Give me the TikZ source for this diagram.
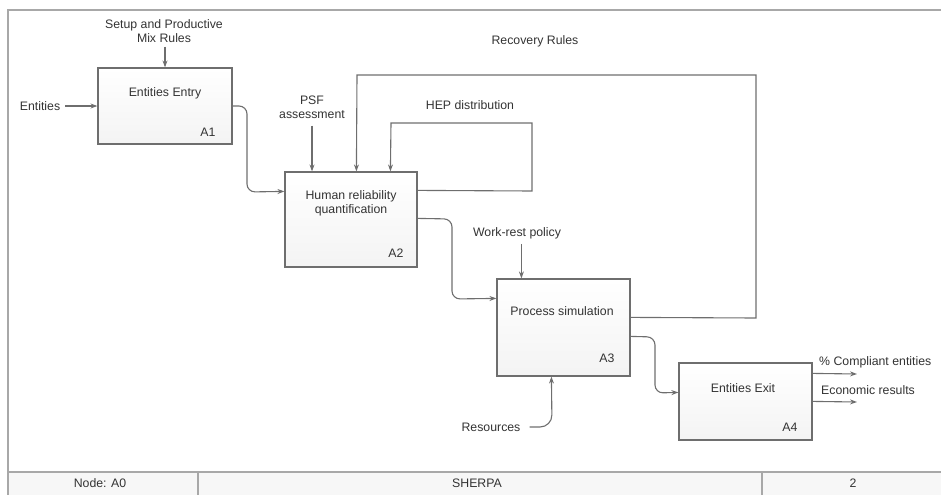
\documentclass[tikz,border=0pt]{standalone}
\usepackage{fontspec}
\setmainfont{Liberation Sans}
\usetikzlibrary{calc,arrows.meta}
\definecolor{linec}{HTML}{6E6E6E}
\definecolor{framec}{HTML}{A8A8A8}
\definecolor{txtc}{HTML}{333333}
\tikzset{
  idefbox/.style={draw=linec, line width=1.2pt, top color=white, bottom color=gray!9, minimum width=#1, inner sep=0pt},
  lbl/.style={text=txtc, font=\fontsize{12.3}{14}\selectfont, inner sep=1pt, align=center},
  conn/.style={draw=linec, line width=1.1pt, -{Stealth[length=7pt,width=5pt]}, rounded corners=8pt},
}
\begin{document}
\begin{tikzpicture}[x=1pt,y=-1pt]
\useasboundingbox (0,0) rectangle (941,495);
% frame
\fill[gray!6] (8,472) rectangle (941,495);
\draw[framec, line width=1.6pt] (941,10) -- (8,10) -- (8,495);
\draw[framec, line width=1.6pt] (8,472) -- (941,472);
\draw[framec, line width=1.4pt] (198,472) -- (198,495);
\draw[framec, line width=1.4pt] (762,472) -- (762,495);
\node[lbl] (fnode) at (100,483) {Node: A0};
\node[lbl] (fsherpa) at (477,483) {SHERPA};
\node[lbl] (fnum) at (853,483) {2};

% boxes
\node[idefbox=134pt, minimum height=76pt] (a1) at (165,106) {};
\node[idefbox=132pt, minimum height=95pt] (a2) at (351,219.5) {};
\node[idefbox=133pt, minimum height=97pt] (a3) at (563.5,327.5) {};
\node[idefbox=133pt, minimum height=77pt] (a4) at (745.5,401.5) {};

% box texts
\node[lbl] (t1) at (165,93) {Entities Entry};
\node[lbl] (n1) at (208,132) {A1};
\node[lbl] (t2) at (351,203) {Human reliability\\quantification};
\node[lbl] (n2) at (396,253) {A2};
\node[lbl] (t3) at (562,311) {Process simulation};
\node[lbl] (n3) at (607,358) {A3};
\node[lbl] (t4) at (743,388) {Entities Exit};
\node[lbl] (n4) at (790,427) {A4};

% external labels
\node[lbl] (ent) at (40,106) {Entities};
\node[lbl] (setup) at (164,31) {Setup and Productive\\Mix Rules};
\node[lbl] (psf) at (312,107) {PSF\\assessment};
\node[lbl] (rec) at (535,41) {Recovery Rules};
\node[lbl] (hep) at (470,105) {HEP distribution};
\node[lbl] (wrp) at (517,233) {Work-rest policy};
\node[lbl] (res) at (491,427) {Resources};
\node[lbl, anchor=west] (comp) at (818,362) {\% Compliant entities};
\node[lbl, anchor=west] (eco) at (820,390) {Economic results};

% coordinates
\coordinate (a2in) at ($(a2.north west)+(0,20)$);
\coordinate (a2rec) at ($(a2.north west)+(72,0)$);
\coordinate (a2hep) at ($(a2.north west)+(106,0)$);
\coordinate (a2hepout) at ($(a2.north east)+(0,19)$);
\coordinate (a2out) at ($(a2.north east)+(0,47)$);
\coordinate (a3in) at ($(a3.north west)+(0,20)$);
\coordinate (a3ctl) at ($(a3.north west)+(25,0)$);
\coordinate (a3mech) at ($(a3.south west)+(55,0)$);
\coordinate (a3rec) at ($(a3.north east)+(0,39)$);
\coordinate (a3out) at ($(a3.north east)+(0,58)$);
\coordinate (a4in) at ($(a4.north west)+(0,30)$);
\coordinate (a4o1) at ($(a4.north east)+(0,11)$);
\coordinate (a4o2) at ($(a4.north east)+(0,39)$);
\coordinate (o1end) at (857,374);
\coordinate (o2end) at (857,402);

% connectors
\draw[conn, shorten <=4pt] (ent.east) -- (a1.west);
\draw[conn, shorten <=3pt] (a1.north |- setup.south) -- (a1.north);
\draw[conn] (a1.east) -- (247,106) -- (247,192) -- (a2in);
\draw[conn, shorten <=6pt] (psf.south) -- (psf.south |- a2.north);
\draw[conn, rounded corners=0pt] (a3rec) -- (756,318) -- (756,75) -- (357,75) -- (a2rec);
\draw[conn, rounded corners=0pt] (a2hepout) -- (532,191) -- (532,123) -- (391,123) -- (a2hep);
\draw[conn] (a2out) -- (452,219) -- (452,299) -- (a3in);
\draw[conn, shorten <=4pt] (a3ctl |- wrp.south) -- (a3ctl);
\draw[conn, rounded corners=12pt, shorten <=8pt] (res.east) -- (552,427) -- (a3mech);
\draw[conn] (a3out) -- (655,337) -- (655,393) -- (a4in);
\draw[conn] (a4o1) -- (o1end);
\draw[conn] (a4o2) -- (o2end);
\end{tikzpicture}
\end{document}
